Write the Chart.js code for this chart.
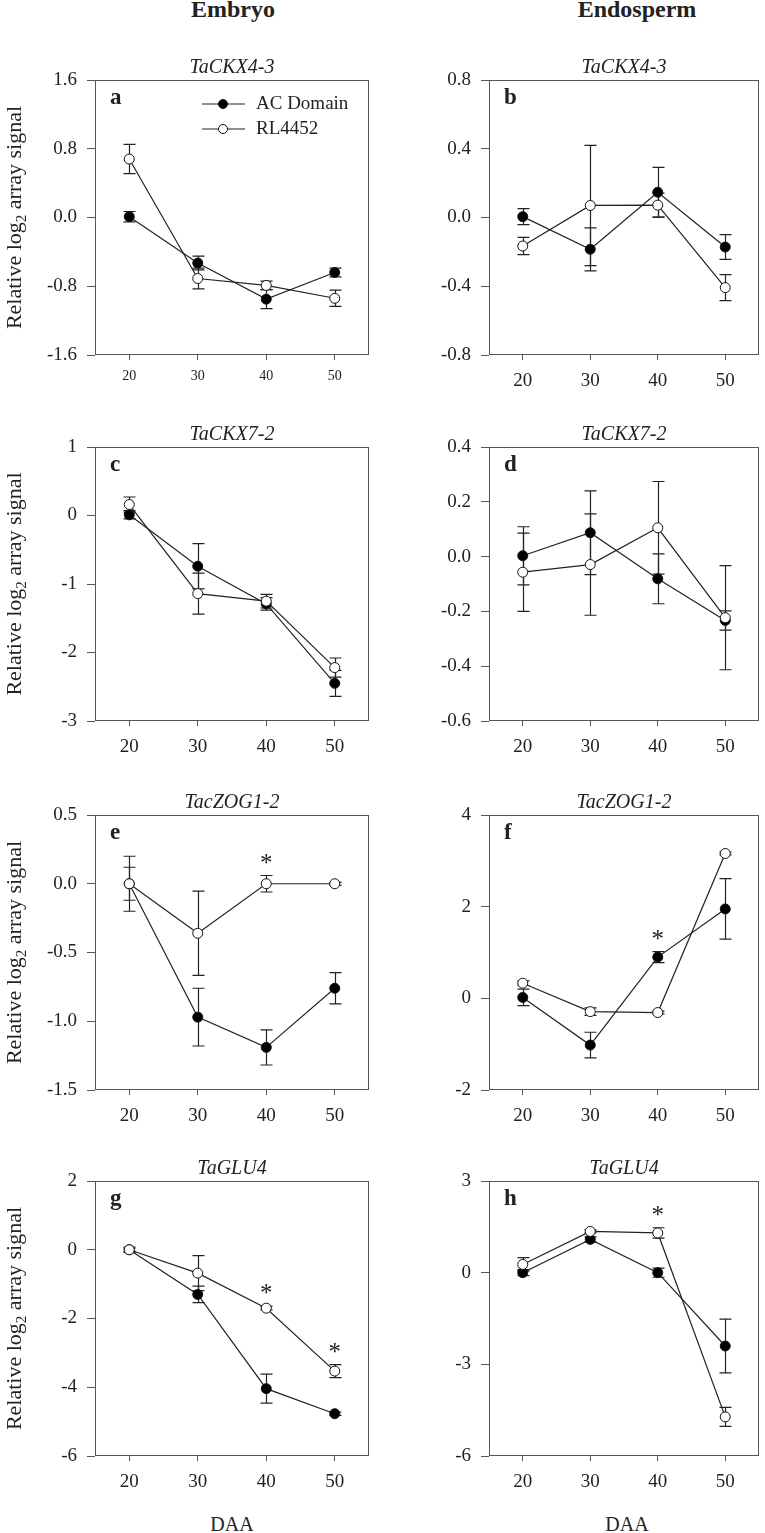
<!DOCTYPE html>
<html>
<head>
<meta charset="utf-8">
<script src="https://cdn.jsdelivr.net/npm/chart.js@4.4.1/dist/chart.umd.min.js"></script>
<style>
  html, body { margin: 0; padding: 0; background: #fff; }
  #page { position: relative; width: 765px; height: 1533px; overflow: hidden;
          font-family: "Liberation Serif", "Times New Roman", serif; color: #222; }
  #page canvas { position: absolute; }
  .head { position: absolute; font-weight: bold; font-size: 24px; line-height: 24px;
          transform: translateX(-50%); white-space: nowrap; }
  .daa { position: absolute; font-size: 20px; line-height: 20px;
         transform: translateX(-50%); white-space: nowrap; }
</style>
</head>
<body>
<div id="page">
  <div class="head" style="left:233px; top:-3px">Embryo</div>
  <div class="head" style="left:637px; top:-3px">Endosperm</div>
  <div class="daa" style="left:232px; top:1514px">DAA</div>
  <div class="daa" style="left:627px; top:1514px">DAA</div>
</div>
<script>
// --- data (DAA = days after anthesis) ---
const days = [20, 30, 40, 50];
const seriesNames = ['AC Domain', 'RL4452'];

// a: embryo, TaCKX4-3
const aTicks = [-1.6, -0.8, 0, 0.8, 1.6];
const aAC = [0.01, -0.53, -0.95, -0.64];
const aACErr = [0.06, 0.08, 0.11, 0.05];
const aRL = [0.68, -0.71, -0.79, -0.94];
const aRLErr = [0.17, 0.12, 0.05, 0.095];
const aSig = [];

// b: endosperm, TaCKX4-3
const bTicks = [-0.8, -0.4, 0, 0.4, 0.8];
const bAC = [0.005, -0.185, 0.147, -0.172];
const bACErr = [0.047, 0.125, 0.145, 0.072];
const bRL = [-0.166, 0.07, 0.072, -0.408];
const bRLErr = [0.05, 0.35, 0.07, 0.076];
const bSig = [];

// c: embryo, TaCKX7-2
const cTicks = [-3, -2, -1, 0, 1];
const cAC = [0.01, -0.74, -1.29, -2.45];
const cACErr = [0.06, 0.33, 0.09, 0.19];
const cRL = [0.16, -1.14, -1.25, -2.22];
const cRLErr = [0.11, 0.30, 0.10, 0.14];
const cSig = [];

// d: endosperm, TaCKX7-2
const dTicks = [-0.6, -0.4, -0.2, 0, 0.2, 0.4];
const dAC = [0.003, 0.087, -0.081, -0.233];
const dACErr = [0.106, 0.153, 0.091, 0.035];
const dRL = [-0.057, -0.029, 0.105, -0.223];
const dRLErr = [0.143, 0.185, 0.169, 0.19];
const dSig = [];

// e: embryo, TacZOG1-2
const eTicks = [-1.5, -1.0, -0.5, 0, 0.5];
const eAC = [0, -0.97, -1.19, -0.76];
const eACErr = [0.12, 0.21, 0.128, 0.113];
const eRL = [0, -0.36, 0.0, 0.0];
const eRLErr = [0.2, 0.307, 0.06, 0.01];
const eSig = [40];

// f: endosperm, TacZOG1-2
const fTicks = [-2, 0, 2, 4];
const fAC = [0.02, -1.02, 0.9, 1.95];
const fACErr = [0.18, 0.28, 0.12, 0.66];
const fRL = [0.33, -0.29, -0.31, 3.16];
const fRLErr = [0.05, 0.08, 0.03, 0.03];
const fSig = [40];

// g: embryo, TaGLU4
const gTicks = [-6, -4, -2, 0, 2];
const gAC = [0, -1.3, -4.04, -4.77];
const gACErr = [0.05, 0.24, 0.42, 0.05];
const gRL = [0, -0.68, -1.7, -3.53];
const gRLErr = [0.08, 0.51, 0.05, 0.19];
const gSig = [40, 50];

// h: endosperm, TaGLU4
const hTicks = [-6, -3, 0, 3];
const hAC = [0.0, 1.09, 0.0, -2.4];
const hACErr = [0.1, 0.08, 0.15, 0.88];
const hRL = [0.27, 1.35, 1.3, -4.72];
const hRLErr = [0.22, 0.05, 0.17, 0.31];
const hSig = [40];

// --- layout ---
const FONT = '"Liberation Serif", "Times New Roman", serif';
const INK = '#222';
const FRAME = '#555';

const panels = [
  { letter: 'a', gene: 'TaCKX4-3',  col: 0, top: 80,   bottom: 355,  ticks: aTicks, dec: 1, ac: aAC, acErr: aACErr, rl: aRL, rlErr: aRLErr, sig: aSig, legend: true, xFont: 14, xPad: 8 },
  { letter: 'b', gene: 'TaCKX4-3',  col: 1, top: 80,   bottom: 355,  ticks: bTicks, dec: 1, ac: bAC, acErr: bACErr, rl: bRL, rlErr: bRLErr, sig: bSig },
  { letter: 'c', gene: 'TaCKX7-2',  col: 0, top: 447,  bottom: 721,  ticks: cTicks, dec: 0, ac: cAC, acErr: cACErr, rl: cRL, rlErr: cRLErr, sig: cSig },
  { letter: 'd', gene: 'TaCKX7-2',  col: 1, top: 447,  bottom: 721,  ticks: dTicks, dec: 1, ac: dAC, acErr: dACErr, rl: dRL, rlErr: dRLErr, sig: dSig },
  { letter: 'e', gene: 'TacZOG1-2', col: 0, top: 815,  bottom: 1090, ticks: eTicks, dec: 1, ac: eAC, acErr: eACErr, rl: eRL, rlErr: eRLErr, sig: eSig },
  { letter: 'f', gene: 'TacZOG1-2', col: 1, top: 815,  bottom: 1090, ticks: fTicks, dec: 0, ac: fAC, acErr: fACErr, rl: fRL, rlErr: fRLErr, sig: fSig },
  { letter: 'g', gene: 'TaGLU4',    col: 0, top: 1181, bottom: 1456, ticks: gTicks, dec: 0, ac: gAC, acErr: gACErr, rl: gRL, rlErr: gRLErr, sig: gSig },
  { letter: 'h', gene: 'TaGLU4',    col: 1, top: 1181, bottom: 1456, ticks: hTicks, dec: 0, ac: hAC, acErr: hACErr, rl: hRL, rlErr: hRLErr, sig: hSig }
];

// error bars, frame, titles, legend, asterisks
const decoPlugin = {
  id: 'deco',
  beforeDatasetsDraw(chart) {
    const { ctx, chartArea: a, scales: { x, y } } = chart;
    ctx.save();
    ctx.strokeStyle = FRAME;
    ctx.lineWidth = 1;
    const l = Math.round(a.left) + 0.5, t = Math.round(a.top) + 0.5;
    const r = Math.round(a.right) - 0.5, b = Math.round(a.bottom) - 0.5;
    ctx.strokeRect(l, t, r - l, b - t);

    ctx.strokeStyle = INK;
    ctx.lineWidth = 1.2;
    chart.data.datasets.forEach(ds => {
      ds.data.forEach((pt, i) => {
        const e = ds.err[i];
        const px = Math.round(x.getPixelForValue(pt.x)) + 0.5;
        const y1 = y.getPixelForValue(pt.y + e);
        const y2 = y.getPixelForValue(pt.y - e);
        ctx.beginPath();
        ctx.moveTo(px, y1); ctx.lineTo(px, y2);
        ctx.moveTo(px - 6, y1); ctx.lineTo(px + 6, y1);
        ctx.moveTo(px - 6, y2); ctx.lineTo(px + 6, y2);
        ctx.stroke();
      });
    });
    ctx.restore();
  },
  afterDraw(chart) {
    const { ctx, chartArea: a, scales: { x, y } } = chart;
    const p = chart.options.plugins.deco.panel;
    ctx.save();
    ctx.fillStyle = INK;

    // gene name
    ctx.font = 'italic 20px ' + FONT;
    ctx.textAlign = 'center';
    ctx.textBaseline = 'alphabetic';
    ctx.fillText(p.gene, (a.left + a.right) / 2, a.top - 7);

    // panel letter
    ctx.font = 'bold 23px ' + FONT;
    ctx.textAlign = 'left';
    ctx.fillText(p.letter, a.left + 15, a.top + 24);

    // asterisks above the highest error bar at that day
    ctx.font = '25px ' + FONT;
    ctx.textAlign = 'center';
    p.sig.forEach(d => {
      const i = days.indexOf(d);
      let hi = -Infinity;
      chart.data.datasets.forEach(ds => { hi = Math.max(hi, ds.data[i].y + ds.err[i]); });
      const cy = y.getPixelForValue(hi) - 19;
      ctx.fillText('*', x.getPixelForValue(d), cy + 14);
    });

    // legend
    if (p.legend) {
      const rows = [a.top + 24, a.top + 49];
      const fills = ['#000', '#fff'];
      rows.forEach((ry, k) => {
        ctx.strokeStyle = INK;
        ctx.lineWidth = 1.2;
        ctx.beginPath();
        ctx.moveTo(a.left + 107, ry); ctx.lineTo(a.left + 150, ry);
        ctx.stroke();
        ctx.beginPath();
        ctx.arc(a.left + 128, ry, 4.5, 0, Math.PI * 2);
        ctx.fillStyle = fills[k];
        ctx.fill();
        ctx.strokeStyle = '#111';
        ctx.lineWidth = 1;
        ctx.stroke();
        ctx.fillStyle = INK;
        ctx.font = '19px ' + FONT;
        ctx.textAlign = 'left';
        ctx.textBaseline = 'middle';
        ctx.fillText(seriesNames[k], a.left + 161, ry);
      });
    }

    // y axis title with subscript, left column only
    if (p.col === 0) {
      const cy = (a.top + a.bottom) / 2;
      const big = '22px ' + FONT, small = '15px ' + FONT;
      const s1 = 'Relative log', s2 = '2', s3 = ' array signal';
      ctx.font = big;
      const w1 = ctx.measureText(s1).width, w3 = ctx.measureText(s3).width;
      ctx.font = small;
      const w2 = ctx.measureText(s2).width;
      const total = w1 + w2 + w3;
      ctx.translate(14, cy);
      ctx.rotate(-Math.PI / 2);
      ctx.textAlign = 'left';
      ctx.textBaseline = 'alphabetic';
      ctx.fillStyle = INK;
      let sx = -total / 2;
      ctx.font = big; ctx.fillText(s1, sx, 7); sx += w1;
      ctx.font = small; ctx.fillText(s2, sx, 12); sx += w2;
      ctx.font = big; ctx.fillText(s3, sx, 7);
    }
    ctx.restore();
  }
};

const page = document.getElementById('page');

panels.forEach(p => {
  const left = p.col === 0 ? 0 : 382;
  const w = p.col === 0 ? 382 : 383;
  const yWidth = p.col === 0 ? 95 : 107;
  const padRight = p.col === 0 ? 13 : 1;
  const h = (p.bottom - p.top) + 40 + 45;

  const cv = document.createElement('canvas');
  cv.width = w; cv.height = h;
  cv.style.left = left + 'px';
  cv.style.top = (p.top - 40) + 'px';
  cv.style.width = w + 'px';
  cv.style.height = h + 'px';
  page.appendChild(cv);

  const tickFont = { family: FONT, size: 19 };

  new Chart(cv, {
    type: 'line',
    data: {
      datasets: [
        {
          label: seriesNames[0],
          data: days.map((d, i) => ({ x: d, y: p.ac[i] })),
          err: p.acErr,
          order: 1,
          borderColor: INK,
          borderWidth: 1.2,
          pointRadius: 5,
          pointBackgroundColor: '#000',
          pointBorderColor: '#111',
          pointBorderWidth: 1,
          tension: 0
        },
        {
          label: seriesNames[1],
          data: days.map((d, i) => ({ x: d, y: p.rl[i] })),
          err: p.rlErr,
          order: 0,
          borderColor: INK,
          borderWidth: 1.2,
          pointRadius: 5,
          pointBackgroundColor: '#fff',
          pointBorderColor: '#111',
          pointBorderWidth: 1,
          tension: 0
        }
      ]
    },
    options: {
      responsive: false,
      animation: false,
      events: [],
      layout: { padding: { top: 40, right: padRight, bottom: 0, left: 0 } },
      plugins: {
        legend: { display: false },
        tooltip: { enabled: false },
        deco: { panel: p }
      },
      scales: {
        x: {
          type: 'linear',
          min: 15,
          max: 55,
          afterBuildTicks: s => { s.ticks = days.map(v => ({ value: v })); },
          afterFit: s => { s.height = 45; },
          grid: { drawOnChartArea: false, drawTicks: true, tickLength: 5, color: FRAME },
          border: { display: false },
          ticks: {
            color: INK,
            font: { family: FONT, size: p.xFont || 19 },
            padding: p.xPad || 10,
            autoSkip: false,
            maxRotation: 0,
            callback: v => String(v)
          }
        },
        y: {
          min: p.ticks[0],
          max: p.ticks[p.ticks.length - 1],
          afterBuildTicks: s => { s.ticks = p.ticks.map(v => ({ value: v })); },
          afterFit: s => { s.width = yWidth; },
          grid: { drawOnChartArea: false, drawTicks: true, tickLength: 8, color: FRAME },
          border: { display: false },
          ticks: {
            color: INK,
            font: tickFont,
            padding: 10,
            callback: v => v.toFixed(p.dec)
          }
        }
      }
    },
    plugins: [decoPlugin]
  });
});
</script>
</body>
</html>
